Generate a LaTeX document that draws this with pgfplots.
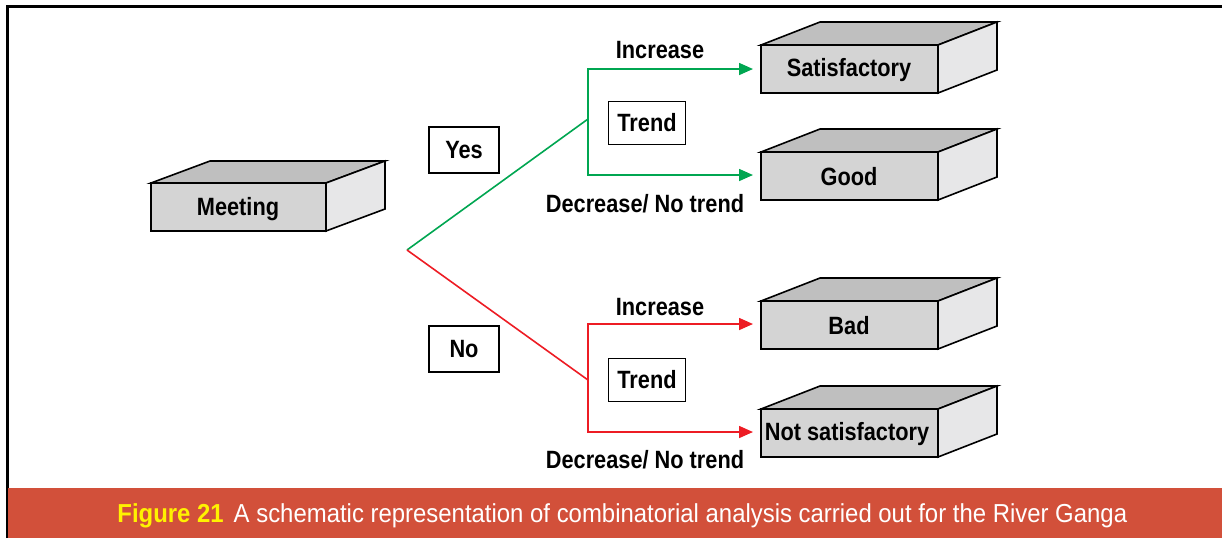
\documentclass[border=0pt]{standalone}
\usepackage{pgfplots}
\pgfplotsset{compat=1.18}
\usepackage{fontspec}
\setmainfont{Liberation Sans}
\newfontfamily\boxfont{Liberation Sans}[FakeStretch=0.87]
\newfontfamily\capfont{Liberation Sans}[FakeStretch=0.92]
\usetikzlibrary{arrows.meta}
\definecolor{frontc}{HTML}{D4D4D4}
\definecolor{topc}{HTML}{BFBFBF}
\definecolor{sidec}{HTML}{E7E7E8}
\definecolor{grn}{HTML}{00A651}
\definecolor{rd}{HTML}{ED1C24}
\definecolor{capbar}{HTML}{D2503A}
\definecolor{capyel}{HTML}{FFF200}
\tikzset{
  lbl/.style={font=\boxfont\bfseries\fontsize{12.5}{14}\selectfont, text=black},
  tbox/.style={draw=black, line width=0.75pt, fill=white, inner sep=0pt, font=\boxfont\bfseries\fontsize{12.5}{14}\selectfont},
  cube/.style={draw=black, line width=0.8pt, line join=miter},
}
\begin{document}
\begin{tikzpicture}
\begin{axis}[
  scale only axis, width=611pt, height=269pt,
  xmin=0, xmax=1222, ymin=0, ymax=538, y dir=reverse,
  hide axis, clip=false,
  every axis plot/.append style={mark=none},
]
% frame
\addplot[black, line width=1.5pt] coordinates {(7,538)(7,6)(1222,6)};
% caption bar
\addplot[fill=capbar, draw=none] coordinates {(8,488)(1222,488)(1222,538)(8,538)} --cycle;
% Meeting cube
\addplot[cube, fill=frontc] coordinates {(151,183)(326,183)(326,231)(151,231)} --cycle;
\addplot[cube, fill=topc] coordinates {(151,183)(210,161)(385,161)(326,183)} --cycle;
\addplot[cube, fill=sidec] coordinates {(326,183)(385,161)(385,209)(326,231)} --cycle;
% Satisfactory cube
\addplot[cube, fill=frontc] coordinates {(761,45)(938,45)(938,93)(761,93)} --cycle;
\addplot[cube, fill=topc] coordinates {(761,45)(820,22)(997,22)(938,45)} --cycle;
\addplot[cube, fill=sidec] coordinates {(938,45)(997,22)(997,70)(938,93)} --cycle;
% Good cube
\addplot[cube, fill=frontc] coordinates {(761,152)(938,152)(938,200)(761,200)} --cycle;
\addplot[cube, fill=topc] coordinates {(761,152)(820,129)(997,129)(938,152)} --cycle;
\addplot[cube, fill=sidec] coordinates {(938,152)(997,129)(997,177)(938,200)} --cycle;
% Bad cube
\addplot[cube, fill=frontc] coordinates {(761,301)(938,301)(938,349)(761,349)} --cycle;
\addplot[cube, fill=topc] coordinates {(761,301)(820,278)(997,278)(938,301)} --cycle;
\addplot[cube, fill=sidec] coordinates {(938,301)(997,278)(997,326)(938,349)} --cycle;
% Not satisfactory cube
\addplot[cube, fill=frontc] coordinates {(761,409)(938,409)(938,457)(761,457)} --cycle;
\addplot[cube, fill=topc] coordinates {(761,409)(820,386)(997,386)(938,409)} --cycle;
\addplot[cube, fill=sidec] coordinates {(938,409)(997,386)(997,434)(938,457)} --cycle;
% green branch
\addplot[grn, line width=0.8pt] coordinates {(407,250)(588,119)};
\addplot[grn, line width=0.8pt, -{Triangle[length=7pt,width=6pt]}] coordinates {(588,119)(588,69)(753,69)};
\addplot[grn, line width=0.8pt, -{Triangle[length=7pt,width=6pt]}] coordinates {(588,119)(588,175)(753,175)};
% red branch
\addplot[rd, line width=0.8pt] coordinates {(407,250)(588,380)};
\addplot[rd, line width=0.8pt, -{Triangle[length=7pt,width=6pt]}] coordinates {(588,380)(588,324)(753,324)};
\addplot[rd, line width=0.8pt, -{Triangle[length=7pt,width=6pt]}] coordinates {(588,380)(588,432)(753,432)};
% cube labels
\node[lbl] at (axis cs:238,209) {Meeting};
\node[lbl] at (axis cs:849,70) {Satisfactory};
\node[lbl] at (axis cs:849,177) {Good};
\node[lbl] at (axis cs:849,326) {Bad};
\node[lbl] at (axis cs:847,434) {Not satisfactory};
% boxed labels
\node[tbox, minimum width=35pt, minimum height=23pt] at (axis cs:464,150) {Yes};
\node[tbox, minimum width=35pt, minimum height=23pt] at (axis cs:464,349) {No};
\node[tbox, minimum width=38.5pt, minimum height=21.5pt] at (axis cs:647,123) {Trend};
\node[tbox, minimum width=38.5pt, minimum height=21.5pt] at (axis cs:647,380) {Trend};
% branch labels
\node[lbl] at (axis cs:660,50) {Increase};
\node[lbl] at (axis cs:660,307) {Increase};
\node[lbl] at (axis cs:645,204) {Decrease/ No trend};
\node[lbl] at (axis cs:645,460) {Decrease/ No trend};
% caption
\node[anchor=west, inner sep=0pt, font=\capfont\fontsize{13}{15}\selectfont, text=white] at (axis cs:117,516)
  {{\color{capyel}\bfseries Figure 21}\hspace{5pt}A schematic representation of combinatorial analysis carried out for the River Ganga};
\end{axis}
\pgfresetboundingbox
\path[use as bounding box] (current axis.south west) rectangle (current axis.north east);
\end{tikzpicture}
\end{document}
